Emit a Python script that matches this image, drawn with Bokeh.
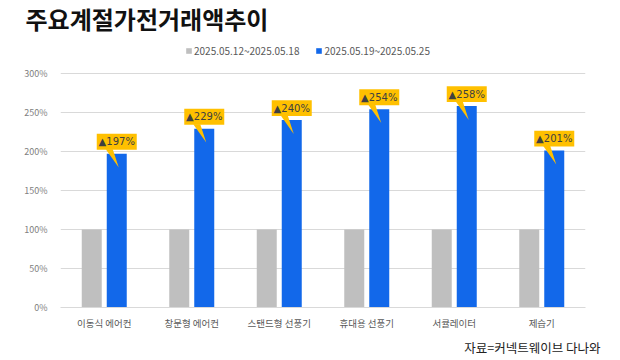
from bokeh.plotting import figure
from bokeh.models import (FactorRange, Range1d, ColumnDataSource, Legend, Title,
                          LegendItem, PrintfTickFormatter, FixedTicker)
from bokeh.transform import dodge
from bokeh.embed import file_html
from bokeh.resources import INLINE

# ---- data ----
categories = ["이동식 에어컨", "창문형 에어컨", "스탠드형 선풍기", "휴대용 선풍기", "서큘레이터", "제습기"]
prev_week = [100, 100, 100, 100, 100, 100]
this_week = [197, 229, 240, 254, 258, 201]
series_names = ["2025.05.12~2025.05.18", "2025.05.19~2025.05.25"]
y_ticks = [0, 50, 100, 150, 200, 250, 300]
title_text = "주요계절가전거래액추이"
source_text = "자료=커넥트웨이브 다나와"

# ---- style / layout ----
FONT = "Noto Sans CJK KR"
GRAY = "#BFBFBF"
BLUE = "#1268EA"
YELLOW = "#FFC000"
W, H = 620, 360
ML, MR, MT, MB = 60, 35, 36, 52
frame_w = W - ML - MR
frame_h = H - MT - MB
axis_top_px = 236          # pixel height of the 0..300% span
y_top_tick = 300
uy = y_top_tick / axis_top_px          # data units per pixel
y_end = frame_h * uy
cat_px = frame_w / len(categories)
ux = 1.0 / cat_px                      # category units per pixel
off = 12.5 * ux
bw = 20 * ux

p = figure(x_range=FactorRange(factors=categories, range_padding=0),
           y_range=Range1d(0, y_end), width=W, height=H,
           output_backend="svg", toolbar_location=None,
           min_border_left=ML, min_border_right=MR,
           min_border_top=MT, min_border_bottom=MB)
p.outline_line_color = None
p.background_fill_color = "white"
p.title.text = title_text
p.title.align = "left"
p.title.vertical_align = "top"
p.title.offset = -35
p.title.standoff = 0
p.title.text_line_height = 0.9
p.title.text_font = FONT
p.title.text_font_size = "24px"
p.title.text_font_style = "bold"
p.title.text_color = "#111111"

src = ColumnDataSource(dict(cat=categories, prev=prev_week, cur=this_week))
r1 = p.vbar(x=dodge("cat", -off, range=p.x_range), top="prev", width=bw,
            source=src, color=GRAY, line_color=None)
r2 = p.vbar(x=dodge("cat", off, range=p.x_range), top="cur", width=bw,
            source=src, color=BLUE, line_color=None)

# ---- callouts ----
cx = [i + 0.5 + off for i in range(len(categories))]
box = ColumnDataSource(dict(
    left=[c - 20 * ux for c in cx], right=[c + 20 * ux for c in cx],
    bottom=[v + 4 * uy for v in this_week], top=[v + 20 * uy for v in this_week],
    tx=cx, ty=[v + 12 * uy for v in this_week],
    txt=["▲%d%%" % v for v in this_week],
    xs=[[c - 11 * ux, c - 4 * ux, c + 2 * ux] for c in cx],
    ys=[[v + 4.5 * uy, v + 4.5 * uy, v - 14 * uy] for v in this_week],
))
p.patches(xs="xs", ys="ys", source=box, fill_color=YELLOW, line_color=None)
p.quad(left="left", right="right", bottom="bottom", top="top", source=box,
       fill_color=YELLOW, line_color=None)
p.text(x="tx", y="ty", text="txt", source=box, text_align="center",
       text_baseline="middle", text_font_size="10px", text_color="#404040",
       text_font={"value": "DejaVu Sans"})

# ---- axes ----
p.yaxis.ticker = FixedTicker(ticks=y_ticks)
p.yaxis.formatter = PrintfTickFormatter(format="%d%%")
p.yaxis.axis_line_color = None
p.yaxis.major_tick_line_color = None
p.yaxis.minor_tick_line_color = None
p.yaxis.major_label_text_font = FONT
p.yaxis.major_label_text_font_size = "9px"
p.yaxis.major_label_text_color = "#808080"
p.yaxis.major_label_standoff = 7
p.xaxis.axis_line_color = "#D9D9D9"
p.xaxis.major_tick_line_color = None
p.xaxis.minor_tick_line_color = None
p.xaxis.major_label_text_font = FONT
p.xaxis.major_label_text_font_size = "9.5px"
p.xaxis.major_label_text_color = "#595959"
p.xaxis.major_label_standoff = 2
p.xgrid.grid_line_color = None
p.ygrid.grid_line_color = "#D9D9D9"

# ---- legend (inside the frame, above the 300% line) ----
legend = Legend(items=[LegendItem(label=series_names[0], renderers=[r1]),
                       LegendItem(label=series_names[1], renderers=[r2])],
                orientation="horizontal", location=(125, 249),
                glyph_width=7, glyph_height=7, label_height=12,
                label_standoff=2, spacing=16, padding=0, margin=0,
                label_text_font=FONT, label_text_font_size="10px",
                label_text_color="#595959", background_fill_alpha=0,
                border_line_color=None)
p.add_layout(legend, "center")

# ---- source (below) ----
p.add_layout(Title(text=source_text, align="right", offset=-15, standoff=7,
                   text_font=FONT, text_font_size="12.5px",
                   text_font_style="normal", text_color="#222222"), "below")

open("out.html", "w").write(file_html(p, INLINE))
